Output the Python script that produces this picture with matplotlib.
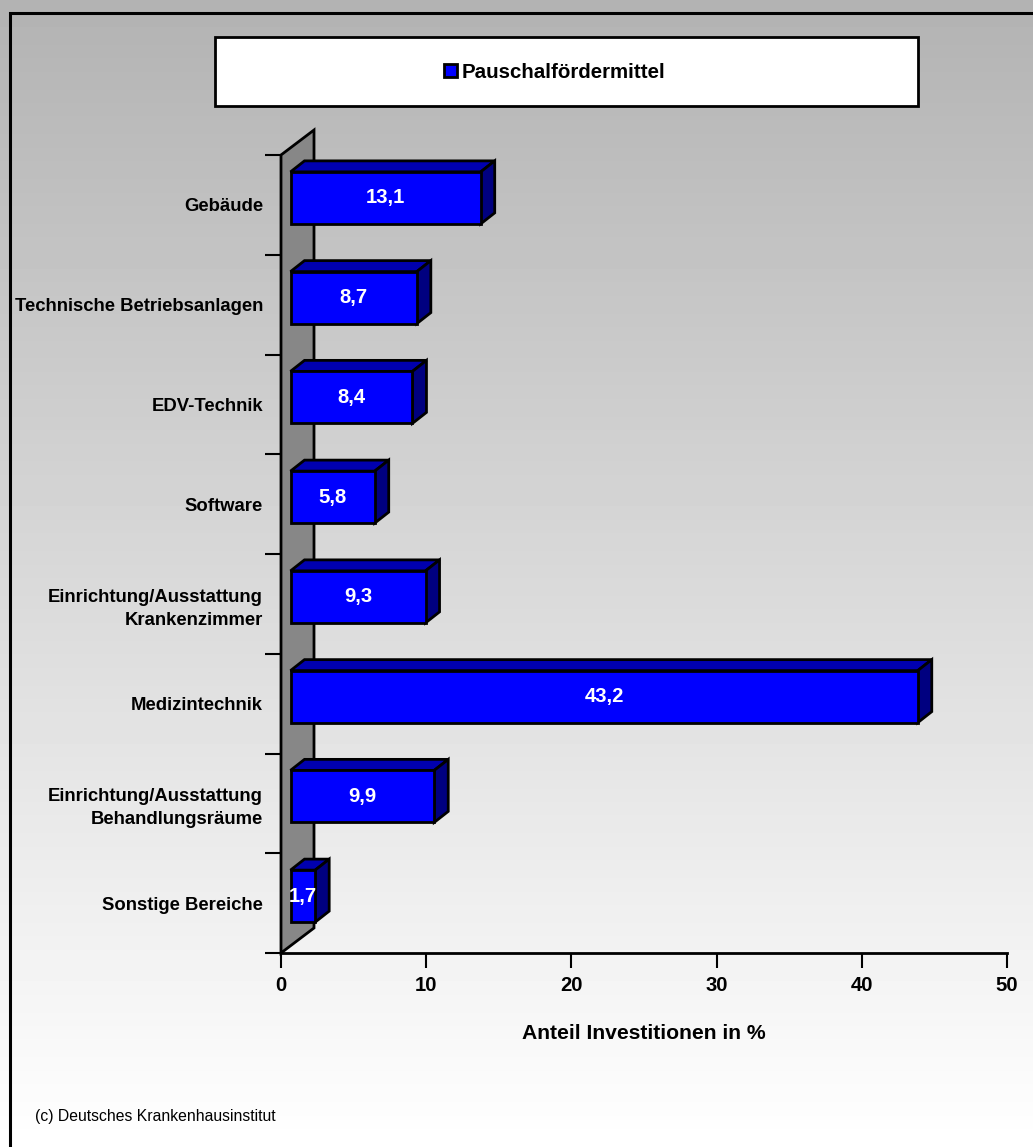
import matplotlib
matplotlib.use("Agg")
import matplotlib.pyplot as plt
import numpy as np
from matplotlib.patches import Polygon, Rectangle

plt.rcParams["font.family"] = ["Liberation Sans", "DejaVu Sans"]

categories = [
    "Gebäude",
    "Technische Betriebsanlagen",
    "EDV-Technik",
    "Software",
    "Einrichtung/Ausstattung\nKrankenzimmer",
    "Medizintechnik",
    "Einrichtung/Ausstattung\nBehandlungsräume",
    "Sonstige Bereiche",
]
values = [13.1, 8.7, 8.4, 5.8, 9.3, 43.2, 9.9, 1.7]
value_labels = ["13,1", "8,7", "8,4", "5,8", "9,3", "43,2", "9,9", "1,7"]
series_name = "Pauschalfördermittel"
x_ticks = [0, 10, 20, 30, 40, 50]
x_label = "Anteil Investitionen in %"
source = "(c) Deutsches Krankenhausinstitut"

W, H = 1033, 1147
fig = plt.figure(figsize=(W / 100, H / 100), dpi=100)

# gradient background
bg = fig.add_axes([0, 0, 1, 1], zorder=-10)
grad = np.linspace(0.70, 1.0, 256).reshape(-1, 1)
bg.imshow(grad, cmap="gray", vmin=0, vmax=1, aspect="auto", extent=[0, 1, 0, 1], origin="upper")
bg.set_xlim(0, 1)
bg.set_ylim(0, 1)
bg.axis("off")
# frame (left and top edges visible)
bg.add_patch(Rectangle((10 / W, -0.1), 1.2, 1 - 13 / H + 0.1, fill=False, ec="black", lw=2.2))


def fx(px):
    return px / W


def fy(py):
    return 1 - py / H


# legend box
bg.add_patch(Rectangle((fx(215), fy(106)), (918 - 215) / W, (106 - 37) / H,
                       fc="white", ec="black", lw=2))
bg.add_patch(Rectangle((fx(444), fy(77)), 13 / W, 13 / H, fc="#0000ff", ec="black", lw=2))
bg.text(fx(462), fy(72), series_name, fontsize=14.8, fontweight="bold", va="center", ha="left")
bg.text(fx(35), fy(1116), source, fontsize=11.3, va="center", ha="left")

# main axes
left, right, top, bottom = 281, 1007, 155, 953
ax = fig.add_axes([fx(left), fy(bottom), (right - left) / W, (bottom - top) / H])
ax.patch.set_visible(False)
n = len(categories)
ax.set_xlim(0, 50)
ax.set_ylim(n - 0.5, -0.5)

px_x = (right - left) / 50.0
px_y = (bottom - top) / n


def dx(p):
    return p / px_x


def dy(p):
    # up on screen is negative in inverted data
    return -p / px_y


# wall
wall_dx, wall_dy = 33, 25
wall = Polygon([(0, n - 0.5), (0, -0.5), (dx(wall_dx), -0.5 + dy(wall_dy)),
                (dx(wall_dx), n - 0.5 + dy(wall_dy))],
               closed=True, fc="#878787", ec="black", lw=2, clip_on=False, zorder=1)
ax.add_patch(wall)

# bars
off_x, off_y = 9.5, 7
depth_x, depth_y = 14, 11
half_h = 26 / px_y
for i, (v, lab) in enumerate(zip(values, value_labels)):
    x0 = dx(off_x)
    x1 = x0 + v
    yc = i + dy(off_y)
    ytop, ybot = yc - half_h, yc + half_h
    ddx, ddy = dx(depth_x), dy(depth_y)
    top_face = Polygon([(x0, ytop), (x1, ytop), (x1 + ddx, ytop + ddy), (x0 + ddx, ytop + ddy)],
                       closed=True, fc="#0000b0", ec="black", lw=2, clip_on=False, zorder=3)
    side_face = Polygon([(x1, ytop), (x1 + ddx, ytop + ddy), (x1 + ddx, ybot + ddy), (x1, ybot)],
                        closed=True, fc="#000080", ec="black", lw=2, clip_on=False, zorder=3)
    front = Rectangle((x0, ytop), v, ybot - ytop, fc="#0000ff", ec="black", lw=2,
                      clip_on=False, zorder=4)
    ax.add_patch(top_face)
    ax.add_patch(side_face)
    ax.add_patch(front)
    ax.text(x0 + v / 2, yc, lab, color="white", fontsize=14.6, fontweight="bold",
            ha="center", va="center", zorder=5)

for s in ["top", "right"]:
    ax.spines[s].set_visible(False)
ax.spines["left"].set_visible(False)
ax.spines["bottom"].set_linewidth(2)
ax.spines["bottom"].set_zorder(6)

ax.set_yticks(np.arange(-0.5, n, 1.0))
ax.set_yticklabels([])
ax.set_yticks(np.arange(n), minor=True)
ax.set_yticklabels(categories, minor=True, fontsize=13.3, fontweight="bold", linespacing=1.45)
ax.tick_params(axis="y", which="major", length=11.5, width=1.5, direction="out")
ax.tick_params(axis="y", which="minor", length=0, pad=13)

ax.set_xticks(x_ticks)
ax.set_xticklabels([str(t) for t in x_ticks], fontsize=14.6, fontweight="bold")
ax.tick_params(axis="x", length=10.5, width=1.5, direction="out", pad=6)
ax.set_xlabel(x_label, fontsize=15.2, fontweight="bold", labelpad=21)

fig.savefig("out.png", dpi=100)
